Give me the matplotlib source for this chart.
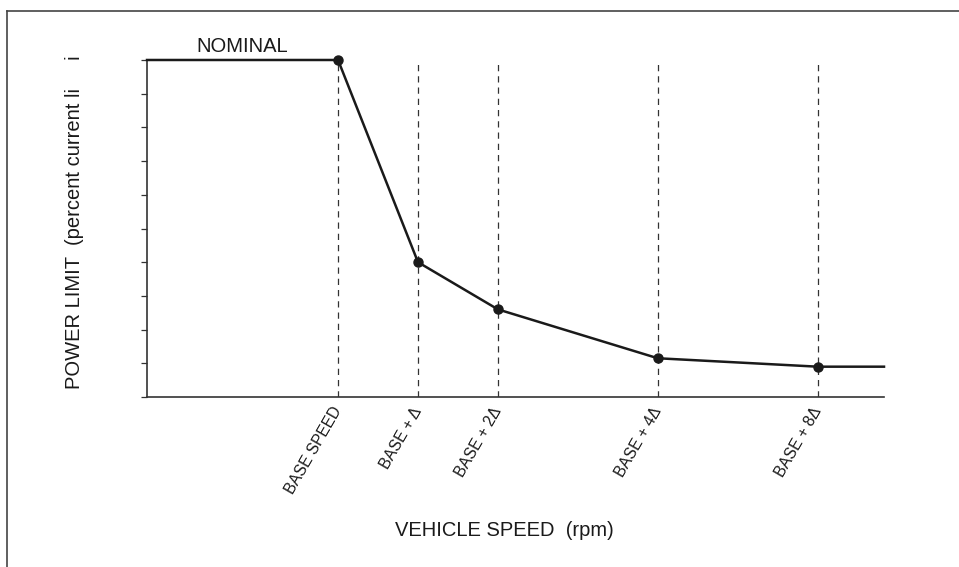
import matplotlib.pyplot as plt
from matplotlib.lines import Line2D

plt.rcParams['font.family'] = ['Liberation Sans', 'DejaVu Sans']

# speed breakpoints, in units of delta above base speed
speed_steps = [0, 1, 2, 4, 6]
step_labels = ["BASE SPEED", "BASE + \u0394", "BASE + 2\u0394", "BASE + 4\u0394", "BASE + 8\u0394"]
power_limit = [100, 40, 26, 11.5, 9]

x_left, x_right = -2.39, 6.83

fig = plt.figure(figsize=(9.59, 5.67), dpi=100)
ax = fig.add_axes([0.1533, 0.2998, 0.7685, 0.5944])

# dashed guides at each breakpoint
for xs in speed_steps:
    ax.plot([xs, xs], [0, 100], color='#333333', lw=0.9, ls=(0, (5, 4)), zorder=1)

# limit curve: flat nominal, drop-off, then flat tail
curve_x = [x_left] + speed_steps + [x_right]
curve_y = [power_limit[0]] + power_limit + [power_limit[-1]]
ax.plot(curve_x, curve_y, color='#1a1a1a', lw=1.8, clip_on=False, zorder=3)
ax.plot(speed_steps, power_limit, 'o', color='#1a1a1a', ms=6.5, clip_on=False, zorder=4)

ax.text(-1.2, 104, "NOMINAL", ha='center', va='center', fontsize=14.5, color='#1a1a1a')

ax.set_xlim(x_left, x_right)
ax.set_ylim(0, 100)
ax.set_yticks(range(0, 101, 10))
ax.set_yticklabels([])
ax.tick_params(axis='y', direction='out', length=4.5, width=0.9, color='#333333')
ax.set_xticks(speed_steps)
ax.set_xticklabels(step_labels, rotation=60, ha='right', va='center',
                   rotation_mode='anchor', fontsize=11.2, color='#1a1a1a')
ax.tick_params(axis='x', length=0, pad=8)

for side in ('top', 'right'):
    ax.spines[side].set_visible(False)
for side in ('left', 'bottom'):
    ax.spines[side].set_color('#333333')
    ax.spines[side].set_linewidth(1.2)

fig.text(504 / 959, 1 - 531 / 567, "VEHICLE SPEED  (rpm)", ha='center', va='center',
         fontsize=14.5, color='#1a1a1a')
fig.text(75 / 959, 1 - 222 / 567, "POWER LIMIT  (percent current li     i", ha='center',
         va='center', rotation=90, fontsize=14.5, color='#1a1a1a')

# frame edges along top and left
fig.add_artist(Line2D([7 / 959, 1], [1 - 11 / 567, 1 - 11 / 567], color='#444444', lw=1.2))
fig.add_artist(Line2D([7 / 959, 7 / 959], [0, 1 - 11 / 567], color='#444444', lw=1.2))

fig.savefig('out.png', dpi=100)
